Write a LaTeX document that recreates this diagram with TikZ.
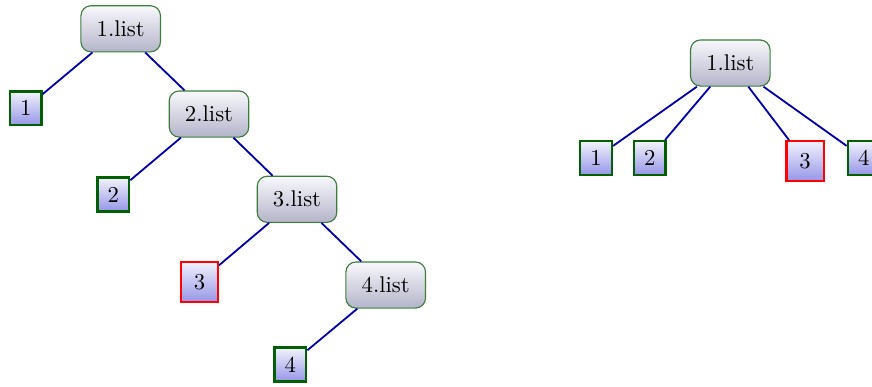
\documentclass[tikz,border=0pt]{standalone}
\usetikzlibrary{shadings}
\definecolor{listtop}{RGB}{248,248,252}
\definecolor{listbot}{RGB}{180,180,202}
\definecolor{leaftop}{RGB}{242,242,252}
\definecolor{leafbot}{RGB}{150,150,232}
\definecolor{listedge}{RGB}{60,125,60}
\definecolor{leafedge}{RGB}{0,95,0}
\definecolor{linkblue}{RGB}{0,0,165}
\tikzset{
  listnode/.style={draw=listedge, line width=0.5pt, rounded corners=4.4pt,
    top color=listtop, bottom color=listbot,
    minimum width=35pt, minimum height=20.3pt, inner sep=0pt},
  leafnode/.style={draw=leafedge, line width=1.1pt,
    top color=leaftop, bottom color=leafbot,
    minimum width=13.9pt, minimum height=14.8pt, inner sep=0pt},
  hotleaf/.style={draw=red, line width=0.9pt,
    top color=leaftop, bottom color=leafbot,
    minimum width=16.3pt, minimum height=17.6pt, inner sep=0pt},
  link/.style={draw=linkblue, line width=0.8pt}
}
\begin{document}
\begin{tikzpicture}[x=0.44pt, y=-0.44pt]
\useasboundingbox (0,0) rectangle (872,386);
% left: nested lists
\node[listnode] (l1) at (120.7,28.8) {1.list};
\node[listnode] (l2) at (209,114) {2.list};
\node[listnode] (l3) at (297,199.3) {3.list};
\node[listnode] (l4) at (385.7,285) {4.list};
\node[leafnode] (a1) at (25.7,108.3) {1};
\node[leafnode] (a2) at (113.3,194.5) {2};
\node[hotleaf]  (a3) at (199.5,281.8) {3};
\node[leafnode] (a4) at (290.3,364.5) {4};
\draw[link] (l1) -- (a1);
\draw[link] (l1) -- (l2);
\draw[link] (l2) -- (a2);
\draw[link] (l2) -- (l3);
\draw[link] (l3) -- (a3);
\draw[link] (l3) -- (l4);
\draw[link] (l4) -- (a4);
% right: flat list
\node[listnode] (r) at (730.3,63) {1.list};
\node[leafnode] (b1) at (596,158) {1};
\node[leafnode] (b2) at (649.7,158) {2};
\node[hotleaf]  (b3) at (805,161) {3};
\node[leafnode] (b4) at (863.7,158) {4};
\draw[link] (r) -- (b1);
\draw[link] (r) -- (b2);
\draw[link] (r) -- (b3);
\draw[link] (r) -- (b4);
\end{tikzpicture}
\end{document}
